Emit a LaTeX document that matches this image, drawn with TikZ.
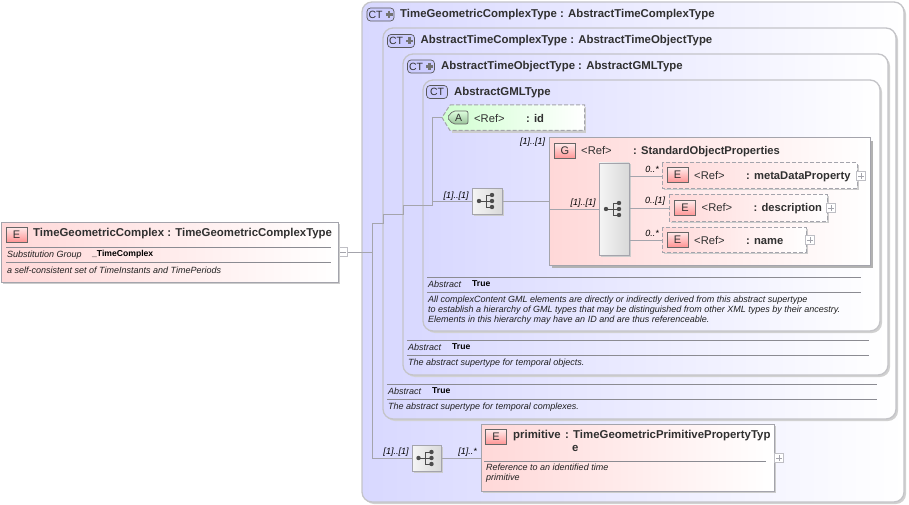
\documentclass[tikz,border=0pt]{standalone}
\usepackage{fontspec}
\setmainfont{Liberation Sans}
\usetikzlibrary{calc}
\definecolor{edge}{HTML}{A4A4AC}
\definecolor{cedge}{HTML}{C4C4C8}
\definecolor{ctfill}{HTML}{D8D8FF}
\definecolor{efill}{HTML}{FFD8D8}
\definecolor{afill}{HTML}{D0FFD0}
\definecolor{txt}{HTML}{303030}
\definecolor{sub}{HTML}{202020}
\tikzset{
 x=1pt,y=-1pt,
 conn/.style={draw=edge,line width=.8pt},
 container/.style={draw=cedge,line width=1.3pt,rounded corners=10pt,left color=ctfill,right color=white},
 cshadow/.style={fill=black!18,rounded corners=10pt},
 panel/.style={draw=edge,line width=1pt,left color=efill,right color=white},
 pshadow/.style={fill=black!20},
 gshadow/.style={fill=black!30},
 dashpanel/.style={panel,dash pattern=on 4pt off 2pt},
 title/.style={font=\fontsize{11.4}{13}\selectfont\bfseries,text=txt,anchor=west,inner sep=0pt,yshift=-.8pt},
 reftitle/.style={title,font=\fontsize{11.2}{13}\selectfont\bfseries,yshift=-1.4pt},
 small/.style={font=\fontsize{9}{10}\selectfont\itshape,text=sub,anchor=west,inner sep=0pt,align=left},
 val/.style={font=\fontsize{8.6}{10}\selectfont\bfseries,text=black,anchor=west,inner sep=0pt},
 occ/.style={font=\fontsize{9}{10}\selectfont\itshape,text=black,inner sep=0pt},
 ebadge/.style={draw=black!60,line width=.7pt,top color=red!8!white,bottom color=red!42!white,minimum width=21pt,minimum height=15pt,inner sep=0pt,font=\fontsize{11}{12}\selectfont,text=txt},
 ctbadge/.style={draw=black!65,line width=.7pt,rounded corners=3.5pt,fill=blue!20!white,minimum height=13pt,inner sep=0pt},
 cttext/.style={font=\fontsize{10.5}{12}\selectfont,text=txt,inner sep=0pt},
 seqbox/.style={draw=edge,line width=.8pt,left color=black!4,right color=black!15,inner sep=0pt},
 plusbox/.style={draw=edge!70!white,fill=white,line width=.6pt,minimum size=9pt,inner sep=0pt},
 rule/.style={draw=edge!85!black,line width=.7pt},
}
\newcommand{\xsdref}[1]{\mdseries\makebox[52pt][l]{<Ref>}\bfseries: #1}
\newcommand{\seqicon}[1]{%
 \fill[black!70] ($(#1)+(-8,0)$) circle (2.2pt);
 \draw[black!70,line width=.8pt] ($(#1)+(-8,0)$) -- ($(#1)+(-1,0)$) ($(#1)+(5,-6)$) -- ($(#1)+(-1,-6)$) -- ($(#1)+(-1,6)$) -- ($(#1)+(5,6)$) ($(#1)+(-1,0)$) -- ($(#1)+(5,0)$);
 \fill[black!70] ($(#1)+(5,-6)$) circle (2.2pt) ($(#1)+(5,0)$) circle (2.2pt) ($(#1)+(5,6)$) circle (2.2pt);}
\newcommand{\plusicon}[1]{\draw[edge,line width=.5pt] ($(#1)+(-3,0)$) -- ($(#1)+(3,0)$) ($(#1)+(0,-3)$) -- ($(#1)+(0,3)$);}
\newcommand{\ctbadgeplus}[3]{% name, x, y
 \node[ctbadge,minimum width=27pt] (#1) at (#2,#3) {};
 \node[cttext] at ($(#1)+(-5,0.3)$) {CT};
 \draw[black!55,line width=2.2pt] ($(#1)+(5,0)$) -- ($(#1)+(12,0)$) ($(#1)+(8.5,-3.5)$) -- ($(#1)+(8.5,3.5)$);}
\begin{document}
\begin{tikzpicture}
\useasboundingbox (0,0) rectangle (909,505);
% containers
\path[cshadow] (364,4) rectangle (906,504);
\path[container] (362,2) rectangle (904,502);
\path[cshadow] (385,30) rectangle (898,421);
\path[container] (383,28) rectangle (896,419);
\path[cshadow] (405,56) rectangle (890,377);
\path[container] (403,54) rectangle (888,375);
\path[cshadow] (425,82) rectangle (882,333);
\path[container] (423,80) rectangle (880,331);
% connector anchors
\coordinate (j1) at (372,252);
\coordinate (j2) at (372,223);
\coordinate (j3) at (372,458);
\coordinate (k1) at (383,223);
\coordinate (k2) at (383,214);
\coordinate (k3) at (403,214);
\coordinate (k4) at (403,205);
\coordinate (k5) at (432.5,205);
\coordinate (k6) at (432.5,201);
\coordinate (k7) at (432.5,117.5);
% attribute
\fill[pshadow] (452,107) -- (586,107) -- (586,133) -- (452,133) -- cycle;
\draw[panel,dash pattern=on 4pt off 2pt,left color=afill,right color=white] (450,105) -- (584.5,105) -- (584.5,130.5) -- (450,130.5) -- (442,117.5) -- cycle;
\coordinate (attr) at (442,117.5);
\draw[draw=black!60,line width=.7pt,top color=afill!70,bottom color=green!40!black!40,rounded corners=2pt] (453,111) -- (468,111) -- (468,124) -- (453,124) -- (447,117.5) -- cycle;
\node[cttext] (abadge) at (458.5,117.8) {A};
\node[reftitle] (aname) at (474,116) {\xsdref{id}};
% group
\fill[gshadow] (552,141) rectangle (873,268);
\path[panel] (549,138) rectangle (870,265);
\node[ebadge] (gbadge) at (565,151) {G};
\node[reftitle] (gname) at (581,149) {\xsdref{StandardObjectProperties}};
\node[occ] (o0) at (532.5,142) {[1]..[1]};
% elements
\fill[pshadow] (664,165) rectangle (859,190);
\path[dashpanel] (662,163) rectangle (857,188);
\node[ebadge] (e1) at (677.5,175) {E};
\node[reftitle] (n1) at (694,174) {\xsdref{metaDataProperty}};
\node[plusbox] (p1) at (861,176) {};\plusicon{p1}
\fill[pshadow] (671,196) rectangle (829,223);
\path[dashpanel] (669,194) rectangle (827,221);
\node[ebadge] (e2) at (685,208) {E};
\node[reftitle] (n2) at (701.5,206) {\xsdref{description}};
\node[plusbox] (p2) at (831,208) {};\plusicon{p2}
\fill[pshadow] (664,229) rectangle (808,254);
\path[dashpanel] (662,227) rectangle (806,252);
\node[ebadge] (e3) at (677.5,239.5) {E};
\node[reftitle] (n3) at (694,238) {\xsdref{name}};
\node[plusbox] (p3) at (810,240) {};\plusicon{p3}
% sequence boxes
\fill[pshadow] (600.5,164.5) rectangle (630.5,256.5);
\node[seqbox,minimum width=30pt,minimum height=92pt] (seq2) at (614,209) {};
\seqicon{seq2}
\fill[pshadow] (473.5,189.5) rectangle (503.5,215.5);
\node[seqbox,minimum width=30pt,minimum height=26pt] (seq1) at (487,201) {};
\seqicon{seq1}
\fill[pshadow] (413.5,446.5) rectangle (442.5,472.5);
\node[seqbox,minimum width=29pt,minimum height=26pt] (seq3) at (426.5,458) {};
\seqicon{seq3}
% connectors
\node[plusbox] (p0) at (343,252) {};\draw[edge,line width=.5pt] ($(p0)+(-3,0)$) -- ($(p0)+(3,0)$);
\draw[conn] (p0.east) -- (j1);
\draw[conn] (j3) -- (j2) -- (k1) -- (k2) -- (k3) -- (k4) -- (k5) -- (k7) -- (attr);
\draw[conn] (k6) -- (seq1.west);
\draw[conn] (j3) -- (seq3.west);
\draw[conn] (seq3.east) -- (481,458);
\draw[conn] (seq1.east) -- (549,201);
\draw[conn] (549,209) -- (seq2.west);
\draw[conn] (seq2.east |- 0,176) -- (662,176);
\draw[conn] (seq2.east |- 0,208) -- (669,208);
\draw[conn] (seq2.east |- 0,240) -- (662,240);
\node[occ] at (456,196) {[1]..[1]};
\node[occ] at (583,203) {[1]..[1]};
\node[occ] at (396,452) {[1]..[1]};
\node[occ] at (467.5,452) {[1]..*};
\node[occ] at (652,169) {0..*};
\node[occ] at (655,201) {0..[1]};
\node[occ] at (652,233) {0..*};
% abstract rows
\foreach \a/\xl/\xr/\yt in {a/427/861/277,b/407/869/340,c/387/877/384}{
 \draw[rule] (\xl,\yt) -- (\xr,\yt) (\xl,\yt+15) -- (\xr,\yt+15);
 \node[small] (lab\a) at (\xl+1,\yt+7.5) {Abstract};
 \node[val] (val\a) at (\xl+45,\yt+6.5) {True};
}
\node[small,anchor=north west] (doca) at (428,295.5) {\baselineskip=10pt All complexContent GML elements are directly or indirectly derived from this abstract supertype\\to establish a hierarchy of GML types that may be distinguished from other XML types by their ancestry.\\Elements in this hierarchy may have an ID and are thus referenceable.};
\node[small] (docb) at (408,363.5) {The abstract supertype for temporal objects.};
\node[small] (docc) at (388,407.5) {The abstract supertype for temporal complexes.};
% container titles
\ctbadgeplus{ct1}{380.5}{14.5}
\node[title] (t1) at (400,14) {TimeGeometricComplexType : AbstractTimeComplexType};
\ctbadgeplus{ct2}{401}{41}
\node[title] (t2) at (420.5,39.5) {AbstractTimeComplexType : AbstractTimeObjectType};
\ctbadgeplus{ct3}{421}{66.5}
\node[title] (t3) at (441,65.5) {AbstractTimeObjectType : AbstractGMLType};
\node[ctbadge,minimum width=21pt] (ct4) at (437,92) {};
\node[cttext] at (437,92.3) {CT};
\node[title] (t4) at (454,91.5) {AbstractGMLType};
% primitive
\fill[pshadow] (483,426) rectangle (776,493);
\path[panel] (481,424) rectangle (774,491);
\node[ebadge] (e4) at (496,437) {E};
\node[title] (n4) at (513,435) {primitive};
\node[title] (n4b) at (565,435) {: TimeGeometricPrimitivePropertyTyp};
\node[title] (n4c) at (572,448) {e};
\draw[rule] (484,461.5) -- (766,461.5);
\node[small,anchor=north west] (d4) at (486,464) {\baselineskip=10pt Reference to an identified time\\primitive};
\node[plusbox] (p4) at (779,458) {};\plusicon{p4}
% root
\fill[pshadow] (3,224) rectangle (340,284);
\path[panel] (1,222) rectangle (338,282);
\node[ebadge] (e0) at (16.5,234.5) {E};
\node[title] (n0) at (33,233) {TimeGeometricComplex : TimeGeometricComplexType};
\draw[rule] (6,247) -- (331,247) (6,262) -- (331,262);
\node[small] at (7,255) {Substitution Group};
\node[val] at (92,254) {\_TimeComplex};
\node[small] at (7,270) {a self-consistent set of TimeInstants and TimePeriods};
\end{tikzpicture}
\end{document}
